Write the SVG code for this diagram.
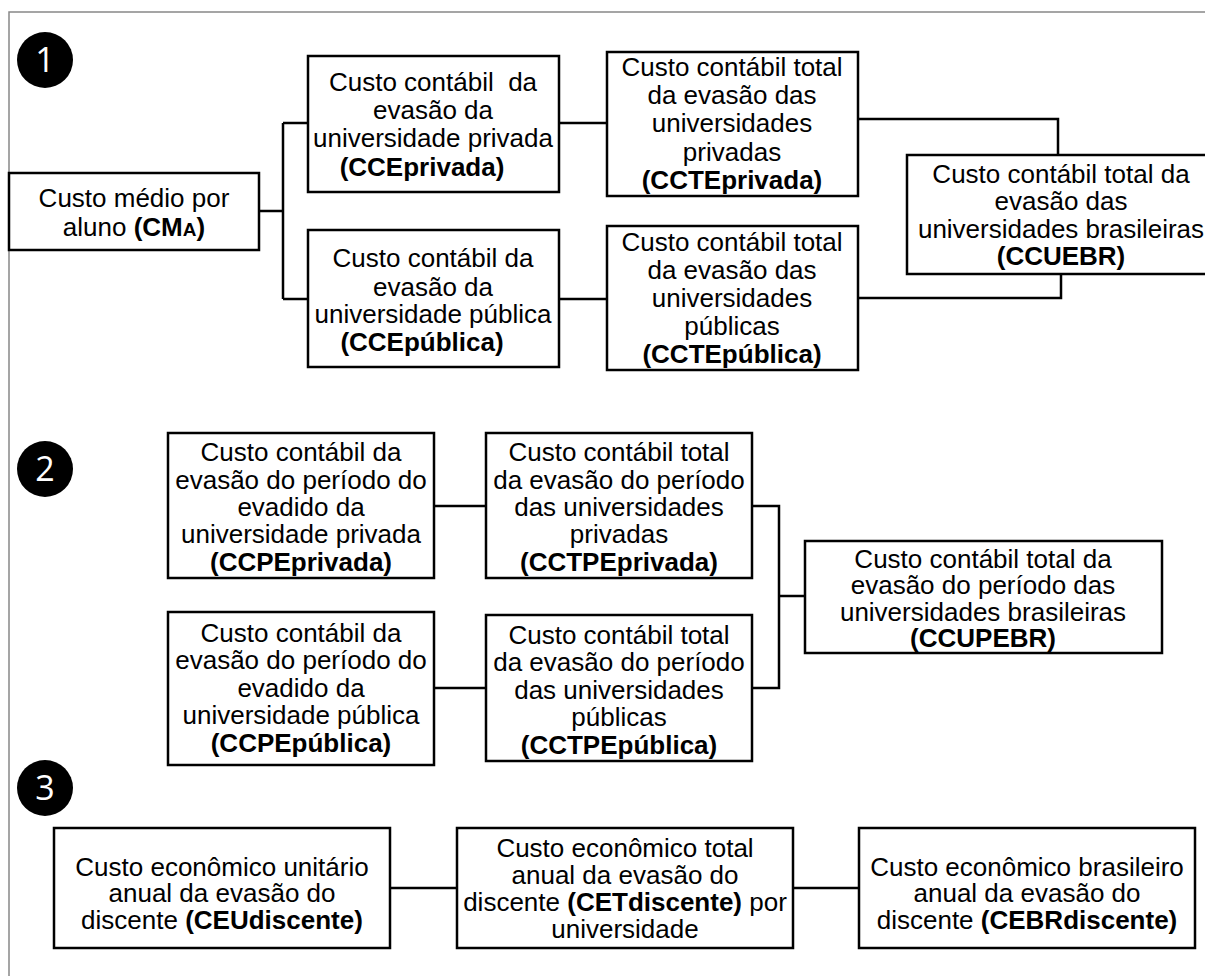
<svg xmlns="http://www.w3.org/2000/svg" width="1205" height="976" viewBox="0 0 1205 976">
<style>
.box{fill:#fff;stroke:#000;stroke-width:2.5}
.t{font-family:"Liberation Sans",Arial,sans-serif;font-size:26px;fill:#000;text-anchor:middle}
.b{font-weight:bold}
.c{fill:none;stroke:#000;stroke-width:2.5}
.frame{fill:none;stroke:#888;stroke-width:1.5}
.num{font-family:"Open Sans","Noto Sans",sans-serif;font-size:34px;fill:#fff;text-anchor:middle}
</style>
<rect width="1205" height="976" fill="#fff"/>
<path class="frame" d="M9,976 V12 H1205"/>

<g id="badge1"><circle cx="45" cy="60" r="28" fill="#000"/><text class="num" x="45" y="72">1</text></g>
<g id="badge2"><circle cx="45" cy="469" r="28" fill="#000"/><text class="num" x="45" y="481">2</text></g>
<g id="badge3"><circle cx="45" cy="788" r="28" fill="#000"/><text class="num" x="45" y="800">3</text></g>

<g id="connectors">
<path class="c" d="M259,211 H283 M283,123 V299 M283,123 H308 M283,299 H308"/>
<path class="c" d="M559,123 H607"/>
<path class="c" d="M559,299 H607"/>
<path class="c" d="M858,119 H1058 V155"/>
<path class="c" d="M858,298 H1061 V274"/>
<path class="c" d="M434,506 H486"/>
<path class="c" d="M434,688 H486"/>
<path class="c" d="M752,506 H779 V688 H752 M779,596 H805"/>
<path class="c" d="M390,888 H457"/>
<path class="c" d="M793,888 H859"/>
</g>

<g id="CMA">
<rect class="box" x="9" y="173" width="250" height="77"/>
<text class="t" x="134" y="207">Custo médio por</text>
<text class="t" x="134" y="236">aluno <tspan class="b">(CM<tspan font-size="19">A</tspan>)</tspan></text>
</g>

<g id="CCEprivada">
<rect class="box" x="308" y="56" width="251" height="136"/>
<text class="t" x="433" y="91" xml:space="preserve">Custo contábil  da</text>
<text class="t" x="433" y="119">evasão da</text>
<text class="t" x="433" y="147">universidade privada</text>
<text class="t b" x="422" y="176">(CCEprivada)</text>
</g>

<g id="CCEpublica">
<rect class="box" x="308" y="230" width="251" height="137"/>
<text class="t" x="433" y="267">Custo contábil da</text>
<text class="t" x="433" y="296">evasão da</text>
<text class="t" x="433" y="323">universidade pública</text>
<text class="t b" x="422" y="351">(CCEpública)</text>
</g>

<g id="CCTEprivada">
<rect class="box" x="607" y="52" width="251" height="144"/>
<text class="t" x="732" y="76">Custo contábil total</text>
<text class="t" x="732" y="104">da evasão das</text>
<text class="t" x="732" y="132">universidades</text>
<text class="t" x="732" y="161">privadas</text>
<text class="t b" x="732" y="189">(CCTEprivada)</text>
</g>

<g id="CCTEpublica">
<rect class="box" x="607" y="226" width="251" height="144"/>
<text class="t" x="732" y="251">Custo contábil total</text>
<text class="t" x="732" y="279">da evasão das</text>
<text class="t" x="732" y="307">universidades</text>
<text class="t" x="732" y="335">públicas</text>
<text class="t b" x="732" y="363">(CCTEpública)</text>
</g>

<g id="CCUEBR">
<rect class="box" x="907" y="155" width="310" height="119"/>
<text class="t" x="1061" y="183">Custo contábil total da</text>
<text class="t" x="1061" y="210">evasão das</text>
<text class="t" x="1061" y="238">universidades brasileiras</text>
<text class="t b" x="1061" y="265">(CCUEBR)</text>
</g>

<g id="CCPEprivada">
<rect class="box" x="168" y="433" width="266" height="145"/>
<text class="t" x="301" y="461">Custo contábil da</text>
<text class="t" x="301" y="489">evasão do período do</text>
<text class="t" x="301" y="516">evadido da</text>
<text class="t" x="301" y="543">universidade privada</text>
<text class="t b" x="301" y="571">(CCPEprivada)</text>
</g>

<g id="CCPEpublica">
<rect class="box" x="168" y="612" width="266" height="153"/>
<text class="t" x="301" y="642">Custo contábil da</text>
<text class="t" x="301" y="669">evasão do período do</text>
<text class="t" x="301" y="697">evadido da</text>
<text class="t" x="301" y="724">universidade pública</text>
<text class="t b" x="301" y="752">(CCPEpública)</text>
</g>

<g id="CCTPEprivada">
<rect class="box" x="486" y="433" width="266" height="145"/>
<text class="t" x="619" y="461">Custo contábil total</text>
<text class="t" x="619" y="489">da evasão do período</text>
<text class="t" x="619" y="516">das universidades</text>
<text class="t" x="619" y="543">privadas</text>
<text class="t b" x="619" y="571">(CCTPEprivada)</text>
</g>

<g id="CCTPEpublica">
<rect class="box" x="486" y="615" width="266" height="146"/>
<text class="t" x="619" y="644">Custo contábil total</text>
<text class="t" x="619" y="671">da evasão do período</text>
<text class="t" x="619" y="699">das universidades</text>
<text class="t" x="619" y="726">públicas</text>
<text class="t b" x="619" y="754">(CCTPEpública)</text>
</g>

<g id="CCUPEBR">
<rect class="box" x="805" y="541" width="357" height="112"/>
<text class="t" x="983" y="568">Custo contábil total da</text>
<text class="t" x="983" y="594">evasão do período das</text>
<text class="t" x="983" y="621">universidades brasileiras</text>
<text class="t b" x="983" y="647">(CCUPEBR)</text>
</g>

<g id="CEUdiscente">
<rect class="box" x="54" y="828" width="336" height="120"/>
<text class="t" x="222" y="876">Custo econômico unitário</text>
<text class="t" x="222" y="902">anual da evasão do</text>
<text class="t" x="222" y="929">discente <tspan class="b">(CEUdiscente)</tspan></text>
</g>

<g id="CETdiscente">
<rect class="box" x="457" y="828" width="336" height="120"/>
<text class="t" x="625" y="857">Custo econômico total</text>
<text class="t" x="625" y="884">anual da evasão do</text>
<text class="t" x="625" y="911">discente <tspan class="b">(CETdiscente)</tspan> por</text>
<text class="t" x="625" y="938">universidade</text>
</g>

<g id="CEBRdiscente">
<rect class="box" x="859" y="828" width="336" height="120"/>
<text class="t" x="1027" y="876">Custo econômico brasileiro</text>
<text class="t" x="1027" y="902">anual da evasão do</text>
<text class="t" x="1027" y="929">discente <tspan class="b">(CEBRdiscente)</tspan></text>
</g>
</svg>
